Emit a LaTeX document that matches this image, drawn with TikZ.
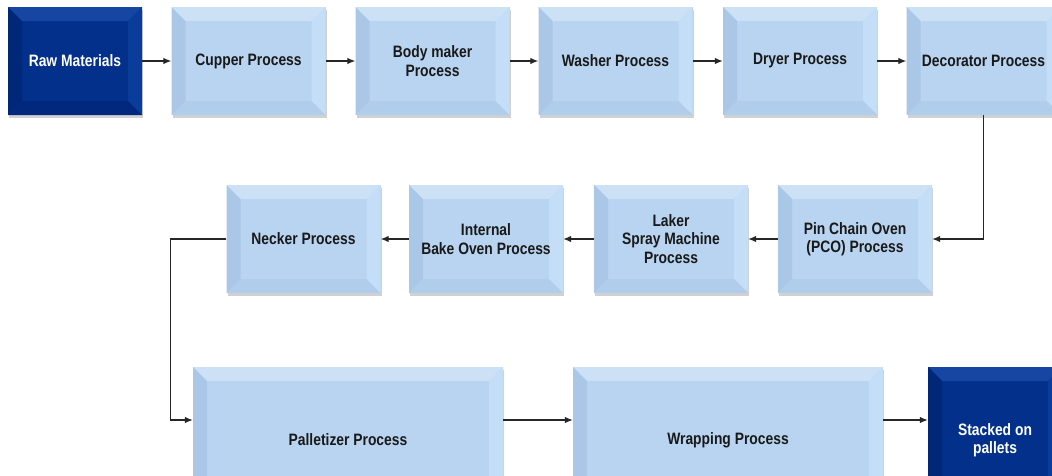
\documentclass[tikz,border=0pt]{standalone}
\usepackage{fontspec}
\setmainfont{Liberation Sans}[FakeStretch=0.84]
\usetikzlibrary{arrows.meta,shadows}

\definecolor{procface}{RGB}{185,212,240}
\definecolor{proctop}{RGB}{205,225,246}
\definecolor{procleft}{RGB}{170,199,231}
\definecolor{procright}{RGB}{197,222,248}
\definecolor{procbot}{RGB}{176,205,236}
\definecolor{proctext}{RGB}{25,25,25}
\definecolor{endface}{RGB}{2,48,138}
\definecolor{endtop}{RGB}{22,70,162}
\definecolor{endleft}{RGB}{1,40,120}
\definecolor{endright}{RGB}{10,60,156}
\definecolor{endbot}{RGB}{1,40,124}

% bevel: top, left, right, bottom faces
\newcommand{\bevelfaces}[4]{%
  \path (path picture bounding box.north west) coordinate (bvnw)
        (path picture bounding box.north east) coordinate (bvne)
        (path picture bounding box.south east) coordinate (bvse)
        (path picture bounding box.south west) coordinate (bvsw);
  \fill[#1] (bvnw) -- (bvne) -- ([shift={(-14pt,-14pt)}]bvne) -- ([shift={(14pt,-14pt)}]bvnw) -- cycle;
  \fill[#2] (bvnw) -- (bvsw) -- ([shift={(14pt,14pt)}]bvsw) -- ([shift={(14pt,-14pt)}]bvnw) -- cycle;
  \fill[#3] (bvne) -- (bvse) -- ([shift={(-14pt,14pt)}]bvse) -- ([shift={(-14pt,-14pt)}]bvne) -- cycle;
  \fill[#4] (bvsw) -- (bvse) -- ([shift={(-14pt,14pt)}]bvse) -- ([shift={(14pt,14pt)}]bvsw) -- cycle;
}

\tikzset{
  stage/.style={rectangle, minimum height=108pt, inner sep=0pt, align=center,
    font=\bfseries\fontsize{16.5}{18.5}\selectfont,
    drop shadow={shadow xshift=1pt, shadow yshift=-2.5pt, opacity=.3, fill=black!60}},
  procbox/.style={stage, fill=procface, text=proctext, minimum width=154pt,
    path picture={\bevelfaces{proctop}{procleft}{procright}{procbot}}},
  endbox/.style={stage, fill=endface, text=white, minimum width=134pt,
    path picture={\bevelfaces{endtop}{endleft}{endright}{endbot}}},
  widebox/.style={procbox, minimum width=310pt, minimum height=146pt},
  flow/.style={-{Latex[length=8pt,width=6.5pt]}, line width=1.1pt, draw=black!85}
}

\begin{document}
\begin{tikzpicture}[x=1pt,y=-1pt]
  \useasboundingbox (0,0) rectangle (1052,475);
  \clip (0,0) rectangle (1052,475);

  % first row
  \node[endbox] (raw) at (75,61) {Raw Materials};
  \node[procbox] (cup) at (248.5,61) {Cupper Process};
  \node[procbox] (body) at (432.5,61) {Body maker\\Process};
  \node[procbox] (wash) at (615.5,61) {Washer Process};
  \node[procbox] (dry) at (800,61) {Dryer Process};
  \node[procbox] (deco) at (983.5,61) {Decorator Process};

  % second row
  \node[procbox] (pco) at (855,239) {Pin Chain Oven\\(PCO) Process};
  \node[procbox] (laker) at (671,239) {Laker\\Spray Machine\\Process};
  \node[procbox] (bake) at (486,239) {Internal\\Bake Oven Process};
  \node[procbox] (neck) at (303.5,239) {Necker Process};

  % third row
  \node[widebox] (pal) at (348,440) {Palletizer Process};
  \node[widebox] (wrap) at (728,440) {Wrapping Process};
  \node[endbox, minimum height=146pt] (stack) at (995,440) {Stacked on\\pallets};

  \draw[flow] (raw) -- (cup);
  \draw[flow] (cup) -- (body);
  \draw[flow] (body) -- (wash);
  \draw[flow] (wash) -- (dry);
  \draw[flow] (dry) -- (deco);
  \draw[flow] (deco.south) |- (pco.east);
  \draw[flow] (pco) -- (laker);
  \draw[flow] (laker) -- (bake);
  \draw[flow] (bake) -- (neck);
  \draw[flow] (neck.west) -- ++(-56,0) |- ([yshift=20pt]pal.west);
  \draw[flow] ([yshift=20pt]pal.east) -- ([yshift=20pt]wrap.west);
  \draw[flow] ([yshift=20pt]wrap.east) -- ([yshift=20pt]stack.west);
\end{tikzpicture}
\end{document}
